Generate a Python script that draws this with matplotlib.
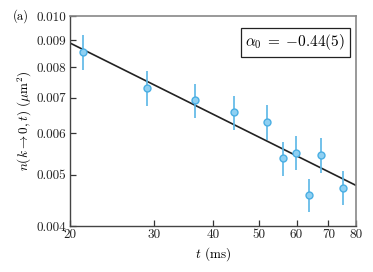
import numpy as np
import matplotlib
matplotlib.use("Agg")
import matplotlib.pyplot as plt
from matplotlib.ticker import FixedLocator, FixedFormatter, NullLocator

# data
t_ms = [21.3, 29.0, 36.7, 44.3, 52.1, 56.1, 59.9, 63.6, 67.5, 75.2]
n_val = [0.00856, 0.00731, 0.00692, 0.00658, 0.00631, 0.00538, 0.00551, 0.00459, 0.00546, 0.00473]
n_err = [0.00065, 0.00055, 0.00050, 0.00049, 0.00048, 0.00040, 0.00041, 0.00033, 0.00041, 0.00035]

# power-law fit n = amp * (t / 20)^alpha
fit_amp = 0.00889
fit_alpha = -0.448
fit_t = [20, 80]

x_ticks = [20, 30, 40, 50, 60, 70, 80]
y_ticks = [0.004, 0.005, 0.006, 0.007, 0.008, 0.009, 0.010]

plt.rcParams['font.family'] = 'serif'
plt.rcParams['font.serif'] = ['cmr10']
plt.rcParams['mathtext.fontset'] = 'cm'
plt.rcParams['axes.unicode_minus'] = False

fig = plt.figure(figsize=(3.73, 2.72), dpi=100)
ax = fig.add_axes([0.1877, 0.169, 0.7663, 0.772])

# fit line
tt = np.array(fit_t, dtype=float)
ax.plot(tt, fit_amp * (tt / 20.0) ** fit_alpha, color='#222222', lw=1.2, zorder=2)

# data with error bars
ax.errorbar(t_ms, n_val, yerr=n_err, fmt='o', ms=5, mfc='#8fd0f2', mec='#4aaee3',
            mew=1.0, ecolor='#5ab6e6', elinewidth=1.2, capsize=0, zorder=3)

ax.set_xscale('log')
ax.set_yscale('log')
ax.set_xlim(20, 80)
ax.set_ylim(0.004, 0.010)

ax.xaxis.set_major_locator(FixedLocator(x_ticks))
ax.xaxis.set_major_formatter(FixedFormatter([str(v) for v in x_ticks]))
ax.xaxis.set_minor_locator(NullLocator())
ax.yaxis.set_major_locator(FixedLocator(y_ticks))
ax.yaxis.set_major_formatter(FixedFormatter([f"{v:.3f}" for v in y_ticks]))
ax.yaxis.set_minor_locator(NullLocator())

ax.tick_params(axis='both', direction='in', length=4, width=0.9, labelsize=9.5,
               colors='#333333', labelcolor='#222222', pad=3)
ax.tick_params(axis='x', pad=2)

for side in ['left', 'bottom']:
    ax.spines[side].set_color('#444444')
    ax.spines[side].set_linewidth(1.0)
for side in ['right', 'top']:
    ax.spines[side].set_color('#888888')
    ax.spines[side].set_linewidth(1.2)

ax.set_xlabel(r'$t$ (ms)', fontsize=9.5, labelpad=3)
ax.set_ylabel(r'$n(k\to 0,t)$ ($\mu$m$^2$)', fontsize=9.5)
ax.yaxis.set_label_coords(-0.125, 0.5)

ax.text(0.963, 0.875, r'$\alpha_0 \;=\; {-}0.44(5)$', transform=ax.transAxes, ha='right', va='center',
        fontsize=11, bbox=dict(boxstyle='square,pad=0.3', fc='white', ec='#222222', lw=0.9))

fig.text(0.035, 0.941, '(a)', fontsize=9, ha='left', va='center')

fig.savefig('out.png', dpi=100)
